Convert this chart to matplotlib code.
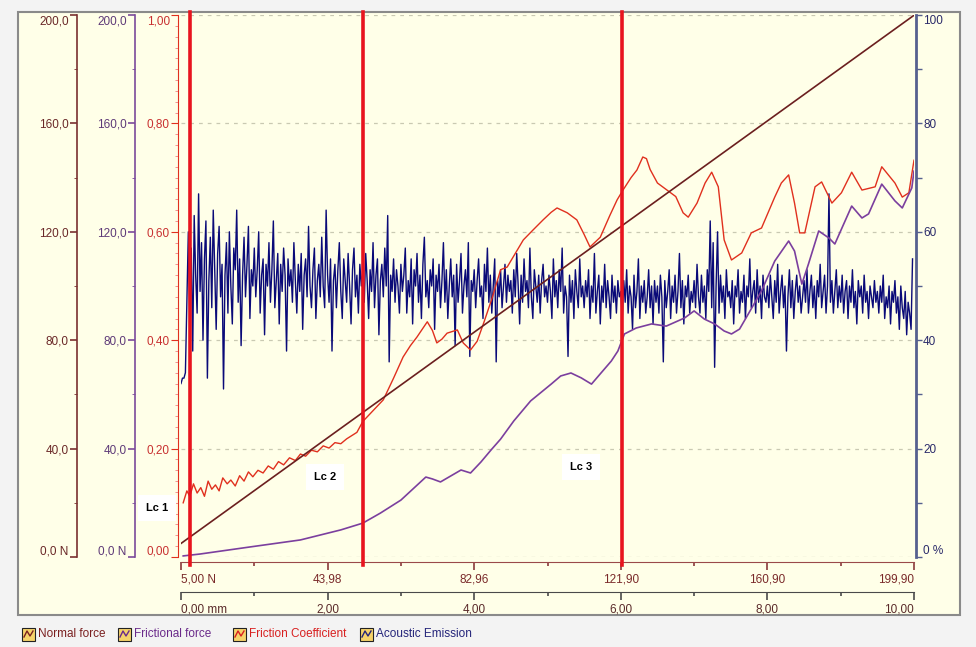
import numpy as np
import matplotlib.pyplot as plt
from matplotlib.patches import Rectangle
from matplotlib.lines import Line2D

plt.rcParams['font.family'] = ['Liberation Sans', 'DejaVu Sans']
plt.rcParams['font.size'] = 8.5

# ---- data (x in mm) ----
fn_x = [0.0, 10.0]
fn_y = [5.0, 199.9]

ft_x = [0.03, 0.26, 0.94, 1.63, 2.18, 2.48, 2.72, 3.00, 3.20, 3.34, 3.43, 3.54, 3.68,
        3.82, 3.95, 4.09, 4.23, 4.36, 4.54, 4.77, 5.05, 5.18, 5.32, 5.46, 5.60, 5.73,
        5.87, 5.96, 6.05, 6.21, 6.42, 6.62, 6.87, 7.00, 7.14, 7.28, 7.41, 7.51, 7.62,
        7.74, 7.92, 8.10, 8.29, 8.37, 8.47, 8.56, 8.70, 8.84, 8.92, 9.15, 9.29, 9.38,
        9.56, 9.74, 9.84, 9.97, 10.0]
ft_y = [0.4, 1.1, 3.7, 6.3, 10.0, 12.5, 16.2, 21.0, 26.0, 29.5, 28.8, 27.7, 29.9,
        32.1, 31.0, 35.0, 39.5, 43.5, 50.2, 57.6, 63.8, 66.8, 67.9, 66.1, 63.8, 67.9,
        72.3, 76.0, 82.3, 84.5, 86.0, 85.2, 88.2, 90.8, 87.8, 86.0, 83.4, 82.3, 84.1,
        89.7, 98.2, 109.2, 116.6, 112.9, 100.7, 108.1, 120.3, 117.7, 115.5, 129.5, 125.1, 126.6,
        137.6, 131.4, 128.8, 136.2, 142.4]

mu_x = [0.03, 0.08, 0.12, 0.17, 0.22, 0.27, 0.32, 0.37, 0.42, 0.47, 0.52, 0.57, 0.63,
        0.68, 0.74, 0.80, 0.86, 0.92, 0.98, 1.05, 1.12, 1.19, 1.26, 1.33, 1.40, 1.48,
        1.56, 1.63, 1.70, 1.78, 1.86, 1.94, 2.02, 2.10, 2.18, 2.26, 2.33, 2.40, 2.48,
        2.62, 2.76, 2.90, 3.03, 3.13, 3.22, 3.36, 3.43, 3.49, 3.56, 3.63, 3.77, 3.85,
        3.95, 4.04, 4.13, 4.25, 4.36, 4.45, 4.56, 4.67, 4.80, 4.94, 5.05, 5.13, 5.27,
        5.40, 5.50, 5.58, 5.72, 5.85, 5.95, 6.03, 6.14, 6.22, 6.30, 6.35, 6.40, 6.50,
        6.63, 6.75, 6.85, 6.92, 7.04, 7.15, 7.24, 7.33, 7.41, 7.51, 7.65, 7.78, 7.92,
        8.10, 8.19, 8.29, 8.37, 8.44, 8.51, 8.65, 8.74, 8.88, 9.01, 9.15, 9.29, 9.47,
        9.56, 9.74, 9.84, 9.93, 10.0]
mu_y = [0.100, 0.122, 0.112, 0.135, 0.118, 0.128, 0.112, 0.140, 0.125, 0.133, 0.122, 0.146, 0.135,
        0.142, 0.131, 0.150, 0.140, 0.157, 0.148, 0.160, 0.155, 0.168, 0.162, 0.176, 0.170, 0.183,
        0.178, 0.190, 0.186, 0.197, 0.194, 0.205, 0.201, 0.211, 0.209, 0.218, 0.224, 0.230, 0.250,
        0.270, 0.290, 0.330, 0.369, 0.390, 0.406, 0.434, 0.418, 0.395, 0.402, 0.413, 0.419, 0.395,
        0.382, 0.398, 0.432, 0.480, 0.530, 0.535, 0.560, 0.585, 0.603, 0.622, 0.636, 0.644, 0.635,
        0.622, 0.595, 0.572, 0.590, 0.630, 0.659, 0.677, 0.700, 0.714, 0.738, 0.735, 0.715, 0.690,
        0.677, 0.665, 0.635, 0.627, 0.653, 0.690, 0.710, 0.683, 0.585, 0.548, 0.561, 0.598, 0.607,
        0.664, 0.690, 0.705, 0.653, 0.598, 0.598, 0.683, 0.692, 0.653, 0.672, 0.710, 0.677, 0.683,
        0.720, 0.690, 0.664, 0.672, 0.732]

# acoustic emission, %, one sample every 0.02 mm
ae = [32, 33, 33, 34, 47, 60, 44, 57, 38, 63, 52, 45, 67, 49, 58, 40, 55, 62, 33, 51, 59, 46, 64, 53, 42,
      56, 61, 48, 54, 31, 52, 58, 45, 60, 50, 43, 57, 53, 64, 47, 55, 39, 52, 59, 48, 54, 61, 44, 53, 50,
      57, 48, 53, 60, 45, 52, 55, 41, 54, 50, 58, 47, 53, 62, 46, 51, 56, 43, 54, 49, 57, 52, 38, 55, 50,
      53, 47, 58, 51, 45, 54, 49, 56, 42, 52, 55, 48, 61, 50, 46, 53, 57, 44, 51, 54, 48, 59, 50, 46, 64,
      52, 47, 55, 38, 51, 54, 46, 53, 58, 49, 44, 55, 51, 47, 56, 50, 43, 53, 57, 48, 52, 45, 54, 50, 53,
      47, 56, 51, 44, 53, 49, 58, 46, 52, 55, 41, 51, 54, 48, 57, 50, 63, 36, 52, 49, 55, 47, 53, 50, 45,
      54, 49, 52, 57, 45, 51, 48, 55, 43, 53, 50, 56, 47, 52, 44, 54, 59, 48, 51, 46, 53, 50, 55, 42, 52,
      49, 54, 46, 51, 58, 47, 53, 44, 50, 55, 48, 52, 39, 54, 47, 51, 56, 45, 50, 53, 48, 58, 37, 51, 49,
      53, 46, 51, 55, 48, 50, 44, 54, 49, 57, 47, 52, 45, 50, 55, 36, 51, 48, 53, 46, 50, 54, 47, 52, 49,
      51, 45, 53, 48, 56, 50, 43, 52, 47, 55, 49, 51, 46, 57, 48, 44, 53, 50, 47, 52, 45, 51, 54, 48, 50,
      47, 52, 49, 44, 55, 48, 51, 46, 53, 49, 57, 45, 50, 48, 37, 52, 47, 51, 44, 53, 49, 46, 55, 48, 50,
      46, 51, 48, 53, 44, 50, 47, 56, 45, 49, 52, 43, 50, 47, 54, 46, 51, 48, 44, 52, 47, 50, 45, 51, 48,
      49, 44, 51, 47, 53, 45, 50, 48, 42, 52, 46, 49, 55, 44, 50, 47, 51, 45, 48, 53, 46, 50, 43, 51, 47,
      50, 45, 52, 48, 36, 51, 46, 49, 53, 44, 50, 47, 52, 45, 49, 56, 46, 51, 43, 50, 48, 52, 45, 49, 47,
      51, 46, 54, 48, 45, 52, 47, 50, 44, 53, 49, 62, 46, 58, 35, 50, 60, 45, 52, 47, 50, 44, 53, 48, 49,
      46, 51, 43, 50, 48, 53, 45, 49, 47, 52, 44, 50, 48, 55, 46, 49, 51, 45, 53, 47, 50, 44, 52, 48, 47,
      50, 46, 52, 48, 44, 51, 47, 54, 45, 49, 52, 46, 50, 38, 48, 53, 46, 51, 44, 49, 52, 47, 50, 45, 48,
      51, 47, 53, 45, 49, 52, 46, 50, 44, 51, 48, 54, 46, 49, 52, 45, 50, 67, 47, 51, 45, 49, 53, 46, 50,
      47, 52, 45, 49, 51, 44, 50, 47, 53, 46, 49, 43, 51, 48, 50, 45, 52, 47, 49, 44, 50, 48, 46, 51, 47,
      49, 45, 50, 47, 52, 44, 48, 46, 50, 43, 49, 47, 51, 45, 48, 42, 50, 46, 44, 49, 41, 47, 45, 42, 55]

lc_pos = [0.12, 2.48, 6.01]
lc_names = ['Lc 1', 'Lc 2', 'Lc 3']

fn_ticks = [0, 40, 80, 120, 160, 200]
fn_labels = ['0,0 N', '40,0', '80,0', '120,0', '160,0', '200,0']
ft_labels = ['0,0 N', '40,0', '80,0', '120,0', '160,0', '200,0']
mu_ticks = [0, 0.2, 0.4, 0.6, 0.8, 1.0]
mu_labels = ['0,00', '0,20', '0,40', '0,60', '0,80', '1,00']
ae_ticks = [0, 20, 40, 60, 80, 100]
ae_labels = ['0 %', '20', '40', '60', '80', '100']
x_ticks = [0, 2, 4, 6, 8, 10]
xn_labels = ['5,00 N', '43,98', '82,96', '121,90', '160,90', '199,90']
xmm_labels = ['0,00 mm', '2,00', '4,00', '6,00', '8,00', '10,00']

c_fn = '#6B1F1F'
c_ft = '#7B3F9E'
c_mu = '#E0301E'
c_ae = '#0A0A78'

W, H = 976, 647
fig = plt.figure(figsize=(9.76, 6.47), dpi=100, facecolor='#F3F3F3')


def fx(px):
    return px / W


def fy(py):
    return 1 - py / H


fig.patches.append(Rectangle((fx(18), fy(615)), fx(960) - fx(18), fy(12) - fy(615),
                             transform=fig.transFigure, facecolor='#FFFFE8',
                             edgecolor='#8A8A8A', lw=1.5, zorder=0))

L, R, T, B = 181, 914, 15, 557
ax = fig.add_axes([fx(L), fy(B), fx(R) - fx(L), fy(T) - fy(B)])
ax_ae = ax.twinx()
ax_ft = ax.twinx()
ax_fn = ax.twinx()
for i, a in enumerate([ax_ae, ax, ax_ft, ax_fn]):
    a.set_zorder(i + 1)
    a.patch.set_visible(False)
    for s in a.spines.values():
        s.set_visible(False)

ax.set_xlim(0, 10)

# acoustic emission (right axis)
ae_x = np.linspace(0, 9.98, len(ae))
ax_ae.plot(ae_x, ae, color=c_ae, lw=1.0)
ax_ae.set_ylim(0, 100)
ax_ae.set_yticks(ae_ticks, labels=ae_labels)
ax_ae.set_yticks([10, 30, 50, 70, 90], minor=True)
ax_ae.spines['right'].set_visible(True)
ax_ae.spines['right'].set_color('#56608F')
ax_ae.spines['right'].set_linewidth(2)
ax_ae.spines['right'].set_position(('outward', 1.5))
ax_ae.tick_params(axis='y', which='both', colors='#56608F', labelcolor='#2A2A6A',
                  direction='out', length=4, width=1, pad=1)
ax_ae.grid(True, color='#C9C9B2', ls=(0, (3, 4)), lw=0.9)

# friction coefficient
ax.plot(mu_x, mu_y, color=c_mu, lw=1.0)
ax.set_ylim(0, 1)
ax.set_yticks(mu_ticks, labels=mu_labels)
ax.set_yticks(np.arange(0.02, 1.0, 0.02), minor=True)
ax.spines['left'].set_visible(True)
ax.spines['left'].set_color(c_mu)
ax.spines['left'].set_position(('outward', 2))
ax.tick_params(axis='y', which='major', colors=c_mu, labelcolor='#C83030',
               direction='out', length=5, pad=1)
ax.tick_params(axis='y', which='minor', colors='#F08080', direction='out', length=2)
ax.set_xticks(range(0, 11))
ax.tick_params(axis='x', length=0, labelbottom=False)

# frictional force
ax_ft.plot(ft_x, ft_y, color=c_ft, lw=1.2)
# normal force
ax_fn.plot(fn_x, fn_y, color=c_fn, lw=1.2)

for a, col, lab_col, off, labels in [(ax_ft, '#7B4A9A', '#5E3A78', 46, ft_labels),
                                     (ax_fn, '#7A3030', '#6A2828', 104, fn_labels)]:
    a.set_ylim(0, 200)
    a.yaxis.tick_left()
    a.set_yticks(fn_ticks, labels=labels)
    a.set_yticks([20, 60, 100, 140, 180], minor=True)
    a.spines['left'].set_visible(True)
    a.spines['left'].set_color(col)
    a.spines['left'].set_linewidth(1.2)
    a.spines['left'].set_position(('axes', -off / (R - L)))
    a.tick_params(axis='y', which='major', colors=col, labelcolor=lab_col,
                  direction='out', length=5, width=1.2, pad=1)
    a.tick_params(axis='y', which='minor', colors=col, direction='out', length=2)

for a in [ax, ax_ae, ax_ft, ax_fn]:
    labs = a.get_yticklabels()
    labs[0].set_va('bottom')
    labs[-1].set_va('top')

# critical loads
for xp in lc_pos:
    ax_fn.axvline(xp, ymin=-0.015, ymax=1 + 3 / (B - T), color='#E8141E', lw=2.6, clip_on=False)
ax_fn.text(lc_pos[0] - 0.45, 18.1, lc_names[0], ha='center', va='center', fontsize=8,
           fontweight='bold', bbox=dict(boxstyle='square,pad=0.7', fc='white', ec='none'))
ax_fn.text(lc_pos[1] - 0.52, 29.5, lc_names[1], ha='center', va='center', fontsize=8,
           fontweight='bold', bbox=dict(boxstyle='square,pad=0.7', fc='white', ec='none'))
ax_fn.text(lc_pos[2] - 0.55, 33.2, lc_names[2], ha='center', va='center', fontsize=8,
           fontweight='bold', bbox=dict(boxstyle='square,pad=0.7', fc='white', ec='none'))

# two x scales below the plot
sx1 = ax_fn.secondary_xaxis(-5 / (B - T))
sx1.set_xticks(x_ticks, labels=xn_labels)
sx1.set_xticks([1, 3, 5, 7, 9], minor=True)
sx1.spines['bottom'].set_color('#9A4A4A')
sx1.tick_params(axis='x', which='major', colors='#8A3A3A', labelcolor='#7A2A2A',
                direction='out', length=6, width=1.2, pad=2)
sx1.tick_params(axis='x', which='minor', colors='#8A3A3A', direction='out', length=3, width=1.2)

sx2 = ax_fn.secondary_xaxis(-35 / (B - T))
sx2.set_xticks(x_ticks, labels=xmm_labels)
sx2.set_xticks([1, 3, 5, 7, 9], minor=True)
sx2.spines['bottom'].set_color('#4A4A4A')
sx2.tick_params(axis='x', which='major', colors='#4A4A4A', labelcolor='#5A2A2A',
                direction='out', length=6, width=1.2, pad=2)
sx2.tick_params(axis='x', which='minor', colors='#4A4A4A', direction='out', length=3, width=1.2)

for s in [sx1, sx2]:
    labs = s.get_xticklabels()
    labs[0].set_ha('left')
    labs[-1].set_ha('right')

# legend strip
legend_items = ['Normal force', 'Frictional force', 'Friction Coefficient', 'Acoustic Emission']
legend_cols = ['#7A2020', '#6A2A8A', '#D82020', '#24247A']
icon_x = [22, 118, 233, 360]
for name, col, px in zip(legend_items, legend_cols, icon_x):
    fig.patches.append(Rectangle((fx(px), fy(641)), fx(13), 13 / H, transform=fig.transFigure,
                                 facecolor='#F6D36A', edgecolor='#222222', lw=0.8))
    fig.add_artist(Line2D([fx(px + 2), fx(px + 5), fx(px + 8), fx(px + 11)],
                          [fy(637), fy(631), fy(636), fy(631)],
                          transform=fig.transFigure, color=col, lw=1.0))
    fig.text(fx(px + 16), fy(634), name, color=col, fontsize=8.5, va='center', ha='left')

fig.savefig('out.png', dpi=100, facecolor=fig.get_facecolor())
